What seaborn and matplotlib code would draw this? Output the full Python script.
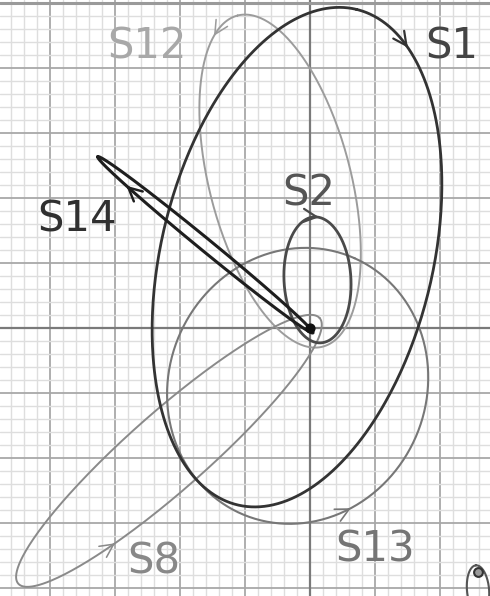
import numpy as np
import pandas as pd
import matplotlib
matplotlib.use("Agg")
import matplotlib.pyplot as plt
import seaborn as sns

# ellipse parameters (grid units, one major square = 1)
names = ["S12", "S8", "S13", "S2", "S1", "S14", "S?"]
centre_x = [-0.46, -2.17, -0.19, 0.115, -0.20, -1.61, 2.585]
centre_y = [2.26, -1.89, -0.89, 0.74, 1.09, 1.28, -4.03]
semi_major = [2.63, 3.09, 2.15, 0.97, 3.92, 2.14, 0.38]
semi_minor = [1.09, 0.60, 1.98, 0.515, 2.09, 0.095, 0.17]
tilt_deg = [104.4, 41.4, 66.0, 93.0, 76.5, 140.7, 95.0]
clockwise = [False, False, False, True, True, True, False]
arrow_at_deg = [22, -121, -131, -5, -25, 46, None]

# marker dots
dot_x = [0.0, 2.585]
dot_y = [0.0, -3.75]

sns.set_style("white")
plt.rcParams["font.family"] = ["DejaVu Sans"]

colors = {"S12": "#9c9c9c", "S8": "#8a8a8a", "S13": "#777777", "S2": "#4a4a4a",
          "S1": "#333333", "S14": "#1e1e1e", "S?": "#555555"}
widths = {"S12": 1.4, "S8": 1.4, "S13": 1.5, "S2": 2.0, "S1": 2.0, "S14": 2.2, "S?": 1.5}
text_colors = {"S12": "#a8a8a8", "S8": "#888888", "S13": "#757575", "S2": "#555555",
               "S1": "#444444", "S14": "#303030"}
label_pos = {"S12": (-2.51, 4.15), "S1": (2.18, 4.15), "S2": (-0.015, 1.89),
             "S14": (-3.58, 1.48), "S8": (-2.40, -3.78), "S13": (1.0, -3.60)}


def ellipse_point(i, t):
    th = np.radians(tilt_deg[i])
    u = semi_major[i] * np.cos(t)
    v = semi_minor[i] * np.sin(t)
    x = centre_x[i] + u * np.cos(th) - v * np.sin(th)
    y = centre_y[i] + u * np.sin(th) + v * np.cos(th)
    return x, y


def ellipse_tangent(i, t):
    th = np.radians(tilt_deg[i])
    du = -semi_major[i] * np.sin(t)
    dv = semi_minor[i] * np.cos(t)
    dx = du * np.cos(th) - dv * np.sin(th)
    dy = du * np.sin(th) + dv * np.cos(th)
    if clockwise[i]:
        dx, dy = -dx, -dy
    n = np.hypot(dx, dy)
    return dx / n, dy / n


fig = plt.figure(figsize=(4.9, 5.96), dpi=100)
ax = fig.add_axes([0, 0, 1, 1])

# grid: one unit = one major square, five minor squares each
ax.set_xticks(np.arange(-5, 4, 1))
ax.set_yticks(np.arange(-5, 6, 1))
ax.set_xticks(np.arange(-5, 3.01, 0.2), minor=True)
ax.set_yticks(np.arange(-5, 5.01, 0.2), minor=True)
ax.grid(which="minor", color="#dedede", lw=1.0)
ax.grid(which="major", color="#a8a8a8", lw=1.3)
ax.tick_params(which="both", length=0, labelbottom=False, labelleft=False)
for s in ax.spines.values():
    s.set_visible(False)
ax.axhline(0, color="#7a7a7a", lw=1.6, zorder=1)
ax.axvline(0, color="#7a7a7a", lw=1.6, zorder=1)
ax.axhline(5, color="#9a9a9a", lw=2.2, zorder=1)

tt = np.linspace(0, 2 * np.pi, 400)
for i, name in enumerate(names):
    xs, ys = ellipse_point(i, tt)
    df = pd.DataFrame({"x": xs, "y": ys})
    sns.lineplot(data=df, x="x", y="y", sort=False, estimator=None,
                 color=colors[name], lw=widths[name], ax=ax, zorder=3 + i)
    if arrow_at_deg[i] is not None:
        t0 = np.radians(arrow_at_deg[i])
        px, py = ellipse_point(i, t0)
        dx, dy = ellipse_tangent(i, t0)
        ax.annotate("", xy=(px + 0.03 * dx, py + 0.03 * dy),
                    xytext=(px - 0.03 * dx, py - 0.03 * dy),
                    arrowprops=dict(arrowstyle="->,head_length=0.6,head_width=0.3",
                                    color=colors[name], lw=widths[name] * 0.8,
                                    shrinkA=0, shrinkB=0, mutation_scale=16),
                    zorder=3 + i)
    if name in label_pos:
        lx, ly = label_pos[name]
        ax.text(lx, ly, name, fontsize=30, color=text_colors[name],
                ha="center", va="baseline", zorder=20)

ax.scatter(dot_x[:1], dot_y[:1], s=40, color="#111111", zorder=15)
ax.scatter(dot_x[1:], dot_y[1:], s=40, color="#9a9a9a", edgecolor="#333333",
           lw=1.5, zorder=15)

ax.set_xlabel("")
ax.set_ylabel("")
ax.set_xlim(-310 / 65, 180 / 65)
ax.set_ylim(-268 / 65, 328 / 65)
ax.set_aspect("equal")

fig.savefig("out.png", dpi=100)
